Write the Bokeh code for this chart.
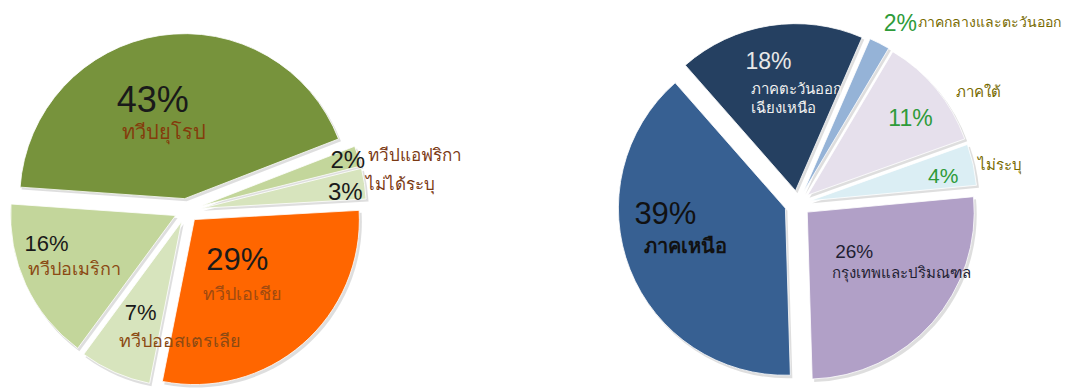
import math
from bokeh.plotting import figure
from bokeh.models import Range1d, ColumnDataSource
from bokeh.embed import file_html
from bokeh.resources import INLINE
from bokeh.core.properties import value

# ---------------- data ----------------
# Left pie (counter-clockwise order, starting at the lower edge of Asia)
left_names = ["ทวีปเอเชีย", "ไม่ได้ระบุ", "ทวีปแอฟริกา", "ทวีปยุโรป", "ทวีปอเมริกา", "ทวีปออสเตรเลีย"]
left_values = [29, 3, 2, 43, 16, 7]
left_colors = ["#FF6600", "#D7E4BD", "#C3D69B", "#77933C", "#C3D69B", "#D7E4BD"]

# Right pie (counter-clockwise order, starting at the lower edge of Bangkok)
right_names = ["กรุงเทพและปริมณฑล", "ไม่ระบุ", "ภาคใต้", "ภาคกลางและตะวันออก",
               "ภาคตะวันออก\nเฉียงเหนือ", "ภาคเหนือ"]
right_values = [26, 4, 11, 2, 18, 39]
right_colors = ["#B1A0C7", "#DBEEF4", "#E6E0EC", "#95B3D7", "#254061", "#376092"]

# ---------------- layout ----------------
W, H = 1067, 388
p = figure(width=W, height=H, output_backend="svg", toolbar_location=None,
           x_range=Range1d(0, W), y_range=Range1d(0, H),
           x_axis_location=None, y_axis_location=None,
           min_border=0)
p.grid.visible = False
p.outline_line_color = None
p.background_fill_color = "white"
p.border_fill_color = "white"

PCT_FONT = value("Liberation Sans")
THAI_FONT = value("Noto Sans")


def build_pie(values, colors, cx, cy, r, start_deg, explode):
    total = float(sum(values))
    a = start_deg
    rows = dict(x=[], y=[], sa=[], ea=[], c=[])
    apexes = []
    for v, col, e in zip(values, colors, explode):
        span = 360.0 * v / total
        mid = math.radians(a + span / 2)
        ax = cx + e * math.cos(mid)
        ay = cy + e * math.sin(mid)
        rows["x"].append(ax)
        rows["y"].append(ay)
        rows["sa"].append(math.radians(a))
        rows["ea"].append(math.radians(a + span))
        rows["c"].append(col)
        apexes.append((ax, ay))
        a += span
    src = ColumnDataSource(rows)
    sh = ColumnDataSource(dict(x=[x + 2 for x in rows["x"]], y=[y - 2.5 for y in rows["y"]],
                               sa=rows["sa"], ea=rows["ea"]))
    p.wedge(x="x", y="y", radius=r + 0.5, start_angle="sa", end_angle="ea", source=sh,
            fill_color="#000000", fill_alpha=0.13, line_color=None)
    p.wedge(x="x", y="y", radius=r, start_angle="sa", end_angle="ea", source=src,
            fill_color="c", line_color="white", line_width=0.8)
    return apexes


def label(apex, dx, dy, txt, size, color, font, bold=False, align="center"):
    p.text(x=[apex[0] + dx], y=[apex[1] + dy], text=[txt], text_font=font,
           text_font_size=f"{size}px", text_color=color, text_align=align,
           text_baseline="middle", text_font_style="bold" if bold else "normal")


# left pie
la = build_pie(left_values, left_colors, 186, 178, 165, 258.8,
               [12, 15, 15, 12, 12, 12])
# right pie
ra = build_pie(right_values, right_colors, 797, 185, 167, -88.3,
               [13, 13, 13, 13, 13, 13])

pct = lambda v: f"{v}%"
BROWN = "#843C0C"
# left labels: (slice index, pct offset, pct size, name offset, name size, name color)
left_lab = [
    (0, (43, -40), 31, (48, -73), 18, "#A04A10"),
    (1, (144, 17), 24, (199, 25), 17, "#7B3A14"),
    (2, (147, 46), 24, (214, 51), 17, "#7B3A14"),
    (3, (-32, 99), 36, (-21, 67), 20, BROWN),
    (4, (-129, -28), 22, (-101, -52), 18, "#8B4A14"),
    (5, (-41, -91), 22, (-2, -119), 18, "#8B4A14"),
]
for i, po, ps, no, ns, nc in left_lab:
    label(la[i], po[0], po[1], pct(left_values[i]), ps, "#1A1A1A", PCT_FONT)
    label(la[i], no[0], no[1], left_names[i], ns, nc, THAI_FONT)

GREEN = "#2E9B3A"
OLIVE = "#776A00"
right_lab = [
    (0, (47, -39), 19, "#1F1F33", [((94, -60), "#1F1F33", "center")], 15, False),
    (1, (133, 25), 21, GREEN, [((190, 37), OLIVE, "center")], 15, False),
    (2, (103, 77), 23, GREEN, [((171, 104), OLIVE, "center")], 15, False),
    (3, (97, 169), 23, GREEN, [((115, 170), OLIVE, "left")], 14, False),
    (4, (-27, 130), 23, "#E8E8E8", [((-44, 103), "#F0F0F0", "left"),
                                     ((-44, 84), "#F0F0F0", "left")], 15, False),
    (5, (-120, -5), 31, "#111111", [((-100, -37), "#111111", "center")], 20, True),
]
for i, po, ps, pc, names, ns, bold in right_lab:
    label(ra[i], po[0], po[1], pct(right_values[i]), ps, pc, PCT_FONT)
    lines = right_names[i].split("\n")
    for (no, nc, al), txt in zip(names, lines):
        label(ra[i], no[0], no[1], txt, ns, nc, THAI_FONT, bold=bold, align=al)

open("out.html", "w").write(file_html(p, INLINE))
